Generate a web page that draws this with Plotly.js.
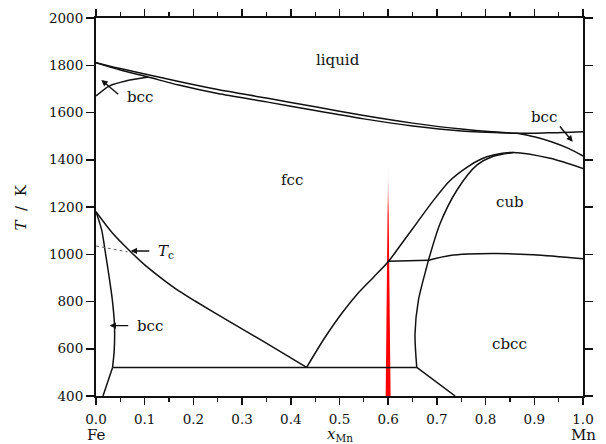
<!DOCTYPE html>
<html>
<head>
<meta charset="utf-8">
<script src="https://cdn.plot.ly/plotly-3.0.1.min.js"></script>
<style>html,body{margin:0;padding:0;background:#fff;}#chart{width:606px;height:444px;}</style>
</head>
<body>
<div id="chart"></div>
<script>
// ---- data (x = mole fraction Mn, T in K) ----
const liquidusX = [0, 0.05, 0.107, 0.17, 0.25, 0.35, 0.45, 0.55, 0.65, 0.75, 0.864, 0.93, 1.0];
const liquidusT = [1811, 1786, 1760, 1731, 1697, 1661, 1624, 1587, 1555, 1530, 1512, 1514, 1519];
const solidusX = [0, 0.05, 0.107, 0.17, 0.25, 0.35, 0.45, 0.55, 0.65, 0.75, 0.864];
const solidusT = [1811, 1780, 1750, 1716, 1680, 1645, 1608, 1573, 1543, 1522, 1512];
const bccMnX = [0.864, 0.9, 0.935, 0.97, 1.0];
const bccMnT = [1512, 1497, 1476, 1448, 1416];
const deltaFeX = [0, 0.028, 0.0625, 0.107];
const deltaFeT = [1670, 1713, 1734, 1750];
const alphaX = [0, 0.0117, 0.0185, 0.0265, 0.0337, 0.038, 0.0374, 0.034];
const alphaT = [1180, 1102, 1017, 910, 804, 699, 593, 521];
const alphaLowX = [0.034, 0.0144];
const alphaLowT = [521, 400];
const gammaX = [0, 0.0337, 0.068, 0.1, 0.1365, 0.17, 0.205, 0.2735, 0.342, 0.4325];
const gammaT = [1180, 1090, 1017, 955, 895, 845, 800, 716, 633, 521];
const outerX = [0.4325, 0.467, 0.501, 0.535, 0.5695, 0.600, 0.624, 0.659, 0.693, 0.727, 0.7615, 0.79, 0.816, 0.857, 0.9325, 1.0];
const outerT = [521, 638, 740, 828, 902, 968, 1035, 1133, 1228, 1312, 1368, 1402, 1420, 1431, 1406, 1363];
const innerX = [0.6587, 0.655, 0.662, 0.679, 0.6826, 0.7066, 0.741, 0.782, 0.816, 0.857];
const innerT = [521, 663, 805, 946, 974, 1130, 1271, 1377, 1415, 1431];
const cubX = [0.683, 0.727, 0.816, 0.898, 1.0];
const cubT = [975, 995, 1003, 998, 981];
const periX = [0.600, 0.683];
const periT = [970, 975];
const eutX = [0.034, 0.6587];
const eutT = [521, 521];
const cbccX = [0.6587, 0.7375];
const cbccT = [521, 400];
const curieX = [0, 0.065];
const curieT = [1035, 1010];
const markX = [0.5948, 0.5998, 0.6049, 0.5948];
const markT = [400, 1392, 400, 400];
const xTickVals = [0, 0.1, 0.2, 0.3, 0.4, 0.5, 0.6, 0.7, 0.8, 0.9, 1.0];
const xTickText = ['0.0','0.1','0.2','0.3','0.4','0.5','0.6','0.7','0.8','0.9','1.0'];
const yTickVals = [400, 600, 800, 1000, 1200, 1400, 1600, 1800, 2000];
const phaseLabels = ['liquid', 'fcc', 'cub', 'cbcc'];
const phaseX = [0.4975, 0.402, 0.85, 0.85];
const phaseT = [1823, 1314, 1222, 621];

const FONT = 'DejaVu Serif';

function curve(x, y, smooth, extra) {
  return Object.assign({
    type: 'scatter', mode: 'lines', x: x, y: y, hoverinfo: 'skip',
    line: {color: '#111', width: 1.5, shape: smooth ? 'spline' : 'linear', smoothing: 0.8}
  }, extra || {});
}

const traces = [
  {type: 'scatter', mode: 'lines', x: markX, y: markT, fill: 'toself', hoverinfo: 'skip',
   line: {width: 0, color: 'rgba(255,0,0,0)'},
   fillcolor: 'rgb(255,0,0)',
   fillgradient: {type: 'vertical', colorscale: [[0, 'rgb(255,0,0)'], [0.78, 'rgb(255,0,0)'], [1, 'rgba(255,220,220,0.3)']]}},
  curve(liquidusX, liquidusT, true),
  curve(solidusX, solidusT, true),
  curve(bccMnX, bccMnT, true),
  curve(deltaFeX, deltaFeT, true),
  curve(alphaX, alphaT, true),
  curve(alphaLowX, alphaLowT, false),
  curve(gammaX, gammaT, true),
  curve(outerX, outerT, true),
  curve(innerX, innerT, true),
  curve(cubX, cubT, true),
  curve(periX, periT, false),
  curve(eutX, eutT, false),
  curve(cbccX, cbccT, false),
  curve(curieX, curieT, false, {line: {color: '#666', width: 1, dash: 'dot'}})
];

const txtFont = {family: FONT, size: 15, color: '#111'};
const annotations = [];
for (let i = 0; i < phaseLabels.length; i++) {
  annotations.push({x: phaseX[i], y: phaseT[i], text: phaseLabels[i], showarrow: false,
    xanchor: 'center', yanchor: 'middle', font: txtFont});
}
// pointer arrows (head at x,y ; tail at ax,ay)
function pointer(x, y, ax, ay) {
  return {x: x, y: y, ax: ax, ay: ay, axref: 'x', ayref: 'y', text: '', showarrow: true,
    arrowhead: 2, arrowsize: 0.9, arrowwidth: 1.4, arrowcolor: '#111'};
}
annotations.push(pointer(0.011, 1738, 0.0487, 1672));
annotations.push({x: 0.09, y: 1667, text: 'bcc', showarrow: false, xanchor: 'center', yanchor: 'middle', font: txtFont});
annotations.push(pointer(0.0713, 1014, 0.1125, 1014));
annotations.push({x: 0.124, y: 1010, text: '<i>T</i><sub>c</sub>', showarrow: false, xanchor: 'left', yanchor: 'middle', font: txtFont});
annotations.push(pointer(0.028, 698, 0.0693, 698));
annotations.push({x: 0.0796, y: 698, text: 'bcc', showarrow: false, xanchor: 'left', yanchor: 'middle', font: txtFont});
annotations.push(pointer(0.979, 1476, 0.950, 1547));
annotations.push({x: 0.920, y: 1580, text: 'bcc', showarrow: false, xanchor: 'center', yanchor: 'middle', font: txtFont});
// axis end labels and titles
annotations.push({x: 0, y: -0.103, xref: 'x', yref: 'paper', text: 'Fe', showarrow: false, xanchor: 'center', yanchor: 'middle', font: txtFont});
annotations.push({x: 1, y: -0.103, xref: 'x', yref: 'paper', text: 'Mn', showarrow: false, xanchor: 'center', yanchor: 'middle', font: txtFont});
annotations.push({x: 0.5, y: -0.103, xref: 'x', yref: 'paper', text: '<i>x</i><sub>Mn</sub>', showarrow: false, xanchor: 'center', yanchor: 'middle', font: txtFont});
annotations.push({x: -0.153, y: 0.5, xref: 'paper', yref: 'paper', text: '<i>T</i>  /  K', textangle: -90, showarrow: false, xanchor: 'center', yanchor: 'middle', font: txtFont});

const axisCommon = {
  showline: true, linecolor: '#111', linewidth: 2, mirror: 'allticks',
  ticks: 'outside', tickcolor: '#111', tickwidth: 1.5, showgrid: false, zeroline: false,
  tickfont: {family: FONT, size: 13.5, color: '#111'}
};

const layout = {
  width: 606, height: 444,
  margin: {l: 96, r: 23, t: 18, b: 48},
  paper_bgcolor: '#fff', plot_bgcolor: '#fff',
  font: {family: FONT, color: '#111'},
  showlegend: false, hovermode: false,
  xaxis: Object.assign({}, axisCommon, {range: [0, 1], tickvals: xTickVals, ticktext: xTickText, ticklen: 7,
    ticklabelstandoff: 3,
    minor: {dtick: 0.05, tick0: 0, ticks: 'outside', ticklen: 4, tickcolor: '#111', tickwidth: 1.2}}),
  yaxis: Object.assign({}, axisCommon, {range: [400, 2000], tickvals: yTickVals, ticklen: 8}),
  annotations: annotations
};

Plotly.newPlot('chart', traces, layout, {staticPlot: true, displayModeBar: false});
</script>
</body>
</html>
